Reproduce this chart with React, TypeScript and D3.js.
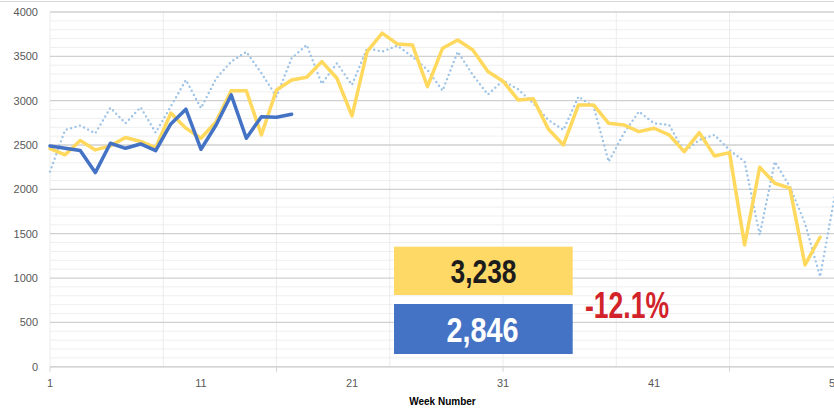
import React from 'react';
import * as d3 from 'd3';

// weekly values
const lastYear = [
  2460, 2390, 2550, 2445, 2490, 2585, 2540, 2470, 2860, 2690,
  2576, 2764, 3113, 3113, 2614, 3121, 3234, 3264, 3440, 3253,
  2828, 3553, 3761, 3640, 3629, 3158, 3592, 3685, 3572, 3328,
  3220, 3008, 3023, 2680, 2501, 2952, 2952, 2745, 2726, 2651,
  2689, 2614, 2425, 2640, 2377, 2414, 1373, 2249, 2069, 2013,
  1147, 1460,
];
const thisYear = [
  2490, 2463, 2437, 2189, 2520, 2463, 2512, 2437, 2738, 2904,
  2452, 2726, 3065, 2576, 2820, 2813, 2846,
];
const twoYearsAgo = [
  2200, 2670, 2720, 2632, 2920, 2745, 2926, 2640, 2935, 3234,
  2915, 3250, 3440, 3550, 3310, 3046, 3478, 3629, 3190, 3422,
  3178, 3592, 3553, 3620, 3497, 3347, 3113, 3553, 3290, 3070,
  3226, 3129, 2971, 2783, 2670, 3046, 2933, 2312, 2632, 2877,
  2745, 2726, 2425, 2557, 2614, 2444, 2312, 1486, 2312, 2030,
  1617, 1015, 1955,
];
const weekLabels = [1, 11, 21, 31, 41, 53];
const weekTicks = [1, 16, 31, 46];
const weekGrid = [1, 8.5, 16, 23.5, 31, 38.5, 46, 53.5];
const yTicks = [0, 500, 1000, 1500, 2000, 2500, 3000, 3500, 4000];
const lastYearTotal = '3,238';
const thisYearTotal = '2,846';
const change = '-12.1%';

const W = 834;
const H = 410;

export default function App() {
  const x = d3.scaleLinear().domain([1, 53]).range([50, 835.2]);
  const y = d3.scaleLinear().domain([0, 4000]).range([366.7, 12]);

  const line = d3
    .line<number>()
    .x((_, i) => x(i + 1))
    .y((d) => y(d));

  const minor = d3.range(100, 4001, 100).filter((v) => v % 500 !== 0);
  const font = '"Liberation Sans", Arial, sans-serif';

  return (
    <svg
      width={W}
      height={H}
      style={{ position: 'absolute', left: 0, top: 0, background: '#fff' }}
    >
      <line x1={0} x2={W} y1={1.5} y2={1.5} stroke="#d6d6d6" strokeWidth={1.2} />

      {/* grid */}
      {minor.map((v) => (
        <line key={'m' + v} x1={50} x2={W} y1={y(v)} y2={y(v)} stroke="#efefef" strokeWidth={1} />
      ))}
      {weekGrid.map((w) => (
        <line key={'v' + w} x1={x(w)} x2={x(w)} y1={y(4000)} y2={y(0)} stroke="#ececec" strokeWidth={1} />
      ))}
      {yTicks.map((v) => (
        <line key={'g' + v} x1={50} x2={W} y1={y(v)} y2={y(v)} stroke="#d0d0d0" strokeWidth={1.3} />
      ))}
      <line x1={50} x2={W} y1={y(0)} y2={y(0)} stroke="#d4d4d4" strokeWidth={1.5} />
      {weekTicks.map((w) => (
        <line key={'t' + w} x1={x(w)} x2={x(w)} y1={y(0)} y2={y(0) + 5} stroke="#d4d4d4" strokeWidth={1} />
      ))}

      {/* axis labels */}
      {yTicks.map((v) => (
        <text key={'yl' + v} x={38} y={y(v)} dy="0.35em" textAnchor="end" fontSize={11} fill="#595959" fontFamily={font}>
          {v}
        </text>
      ))}
      {weekLabels.map((w) => (
        <text key={'xl' + w} x={x(w)} y={387} textAnchor="middle" fontSize={11} fill="#595959" fontFamily={font}>
          {w}
        </text>
      ))}
      <text x={442.5} y={405} textAnchor="middle" fontSize={10} fontWeight="bold" fill="#000" fontFamily={font}>
        Week Number
      </text>

      {/* series */}
      <path
        d={line(twoYearsAgo) ?? ''}
        fill="none"
        stroke="#9dc3e6"
        strokeWidth={2.4}
        strokeDasharray="0 4.6"
        strokeLinecap="round"
        strokeLinejoin="round"
      />
      <path d={line(lastYear) ?? ''} fill="none" stroke="#ffd85e" strokeWidth={3.5} strokeLinejoin="round" strokeLinecap="round" />
      <path d={line(thisYear) ?? ''} fill="none" stroke="#4472c4" strokeWidth={3.5} strokeLinejoin="round" strokeLinecap="round" />

      {/* totals */}
      <rect x={394} y={246.7} width={178.7} height={48.3} fill="#ffd966" />
      <rect x={394} y={304} width={178.7} height={50} fill="#4472c4" />
      <text x={483.5} y={283} textAnchor="middle" fontSize={33} fontWeight="bold" fill="#1c1c1c" fontFamily={font} textLength={66} lengthAdjust="spacingAndGlyphs">
        {lastYearTotal}
      </text>
      <text x={482.5} y={341.7} textAnchor="middle" fontSize={35} fontWeight="bold" fill="#fff" fontFamily={font} textLength={72} lengthAdjust="spacingAndGlyphs">
        {thisYearTotal}
      </text>
      <text x={585} y={318.3} fontSize={37} fontWeight="bold" fill="#d2232a" fontFamily={font} textLength={84} lengthAdjust="spacingAndGlyphs">
        {change}
      </text>
    </svg>
  );
}
